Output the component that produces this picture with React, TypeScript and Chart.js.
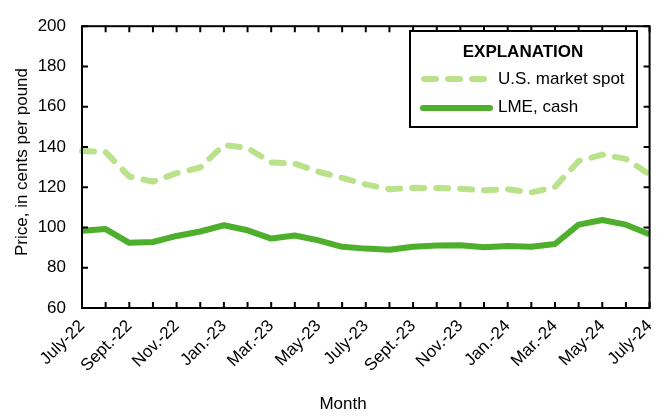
import { useEffect, useRef } from "react";
import { Chart, registerables } from "chart.js";

Chart.register(...registerables);

const months = [
  "July-22", "Aug.-22", "Sept.-22", "Oct.-22", "Nov.-22", "Dec.-22",
  "Jan.-23", "Feb.-23", "Mar.-23", "Apr.-23", "May-23", "June-23",
  "July-23", "Aug.-23", "Sept.-23", "Oct.-23", "Nov.-23", "Dec.-23",
  "Jan.-24", "Feb.-24", "Mar.-24", "Apr.-24", "May-24", "June-24", "July-24",
];
const shownMonthLabels = [
  "July-22", "Sept.-22", "Nov.-22", "Jan.-23", "Mar.-23", "May-23", "July-23",
  "Sept.-23", "Nov.-23", "Jan.-24", "Mar.-24", "May-24", "July-24",
];
const usSpot = [
  138, 137.4, 125.3, 122.8, 127, 129.8, 141, 139.5, 132.3, 131.7, 127.7, 124.6,
  121.4, 119, 119.7, 119.6, 119.3, 118.5, 119, 117.4, 120.2, 133, 136.2, 134.1, 126.3,
];
const lmeCash = [
  98.4, 99.2, 92.4, 92.8, 95.8, 98, 101.1, 98.6, 94.5, 96, 93.6, 90.4,
  89.5, 88.9, 90.4, 91, 91.2, 90.2, 90.8, 90.4, 91.8, 101.4, 103.7, 101.4, 96.6,
];
const yTickValues = [60, 80, 100, 120, 140, 160, 180, 200];

const FONT = "'Liberation Sans', Arial, sans-serif";
const SPOT_COLOR = "#b9e28a";
const LME_COLOR = "#4daf2b";

const framePlugin = {
  id: "frame",
  afterDatasetsDraw(chart: any) {
    const { ctx, chartArea, scales } = chart;
    const { left, right, top, bottom } = chartArea;
    const x = scales.x;
    const y = scales.y;
    ctx.save();
    ctx.strokeStyle = "#000";
    ctx.lineWidth = 2;
    ctx.strokeRect(left, top, right - left, bottom - top);
    ctx.beginPath();
    for (let i = 0; i < months.length; i++) {
      const px = x.getPixelForValue(i);
      ctx.moveTo(px, bottom);
      ctx.lineTo(px, bottom - 6);
      ctx.moveTo(px, top);
      ctx.lineTo(px, top + 6);
    }
    for (const v of yTickValues) {
      const py = y.getPixelForValue(v);
      ctx.moveTo(left, py);
      ctx.lineTo(left + 6, py);
      ctx.moveTo(right, py);
      ctx.lineTo(right - 6, py);
    }
    ctx.stroke();

    // Legend box
    const bx = 410, by = 31, bw = 227, bh = 96;
    ctx.fillStyle = "#fff";
    ctx.fillRect(bx, by, bw, bh);
    ctx.lineWidth = 2;
    ctx.strokeRect(bx, by, bw, bh);
    ctx.fillStyle = "#000";
    ctx.textBaseline = "middle";
    ctx.textAlign = "center";
    ctx.font = `bold 17px ${FONT}`;
    ctx.fillText("EXPLANATION", 523, 52);
    ctx.font = `17px ${FONT}`;
    ctx.textAlign = "left";
    const ds = chart.data.datasets;
    ctx.lineCap = "round";
    ctx.lineWidth = 6;
    ctx.strokeStyle = SPOT_COLOR;
    ctx.setLineDash([12, 12]);
    ctx.beginPath();
    ctx.moveTo(424, 79);
    ctx.lineTo(485, 79);
    ctx.stroke();
    ctx.setLineDash([]);
    ctx.strokeStyle = LME_COLOR;
    ctx.beginPath();
    ctx.moveTo(423, 108);
    ctx.lineTo(490, 108);
    ctx.stroke();
    ctx.fillStyle = "#000";
    ctx.fillText(ds[0].label, 498, 79);
    ctx.fillText(ds[1].label, 498, 107);

    // Axis titles
    ctx.font = `17px ${FONT}`;
    ctx.textAlign = "center";
    ctx.fillText("Month", 343, 404);
    ctx.save();
    ctx.translate(22, 162);
    ctx.rotate(-Math.PI / 2);
    ctx.fillText("Price, in cents per pound", 0, 0);
    ctx.restore();
    ctx.restore();
  },
};

export default function App() {
  const ref = useRef<HTMLCanvasElement | null>(null);
  useEffect(() => {
    document.body.style.margin = "0";
    const canvas = ref.current;
    if (!canvas) return;
    const chart = new Chart(canvas, {
      type: "line",
      data: {
        labels: months,
        datasets: [
          {
            label: "U.S. market spot",
            data: usSpot,
            borderColor: SPOT_COLOR,
            borderWidth: 6,
            borderDash: [12, 12],
            borderCapStyle: "round",
            borderJoinStyle: "round",
            pointRadius: 0,
            tension: 0,
            fill: false,
          },
          {
            label: "LME, cash",
            data: lmeCash,
            borderColor: LME_COLOR,
            borderWidth: 6,
            borderJoinStyle: "round",
            pointRadius: 0,
            tension: 0,
            fill: false,
          },
        ],
      },
      options: {
        animation: false,
        responsive: false,
        devicePixelRatio: 1,
        layout: { padding: { left: 0, right: 13, top: 19, bottom: 0 } },
        plugins: { legend: { display: false }, tooltip: { enabled: false } },
        scales: {
          x: {
            type: "category",
            offset: false,
            grid: { display: false, drawTicks: false },
            border: { display: false },
            afterFit: (s: any) => { s.height = 108; },
            ticks: {
              autoSkip: false,
              maxRotation: 45,
              minRotation: 45,
              padding: 8,
              color: "#000",
              font: { family: FONT, size: 17 },
              callback: (_v: any, i: number) =>
                shownMonthLabels.includes(months[i]) ? months[i] : "",
            },
          },
          y: {
            min: 60,
            max: 200,
            grid: { display: false, drawTicks: false },
            border: { display: false },
            afterFit: (s: any) => { s.width = 82; },
            afterBuildTicks: (s: any) => {
              s.ticks = yTickValues.map((v) => ({ value: v }));
            },
            ticks: {
              padding: 16,
              color: "#000",
              font: { family: FONT, size: 17 },
            },
          },
        },
      },
      plugins: [framePlugin],
    });
    return () => chart.destroy();
  }, []);
  return <canvas ref={ref} width={672} height={416} style={{ display: "block" }} />;
}
